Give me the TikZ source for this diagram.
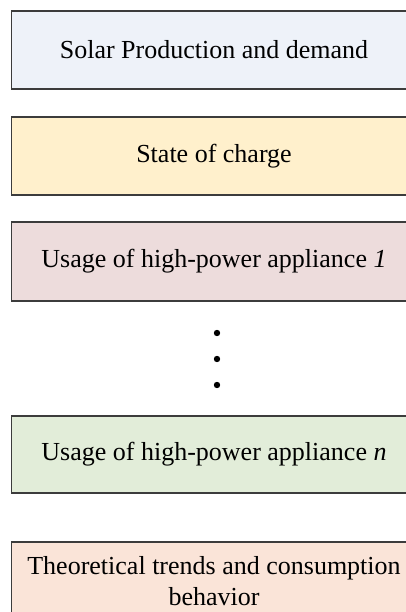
\documentclass[tikz,border=0pt]{standalone}
\usepackage{fontspec}
\setmainfont{Liberation Serif}
\definecolor{cblue}{HTML}{EEF2F9}
\definecolor{cyellow}{HTML}{FFF0CC}
\definecolor{cred}{HTML}{EDDCDC}
\definecolor{cgreen}{HTML}{E2EDD9}
\definecolor{corange}{HTML}{FAE4D8}
\definecolor{cborder}{HTML}{3C3C3C}
\begin{document}
\begin{tikzpicture}[x=1pt,y=-1pt,
  stagebox/.style={draw=cborder, line width=1.2pt, rectangle, minimum width=405pt,
    minimum height=78pt, inner sep=0pt, align=center,
    font=\fontsize{26}{31}\selectfont, text=black},
  dotmark/.style={circle, fill=black, inner sep=0pt, minimum size=6.4pt}]
\useasboundingbox (0,0) rectangle (406,612);
\node[stagebox, fill=cblue] (b1) at (214,50) {Solar Production and demand};
\node[stagebox, fill=cyellow] (b2) at (214,156) {State of charge};
\node[stagebox, fill=cred, minimum height=79pt] (b3) at (214,261.5) {Usage of high-power appliance \textit{1}};
\node[dotmark] (d1) at (217,333) {};
\node[dotmark] (d2) at (217,359) {};
\node[dotmark] (d3) at (217,385) {};
\node[stagebox, fill=cgreen, minimum height=77pt] (b4) at (214,454.5) {Usage of high-power appliance \textit{n}};
\node[stagebox, fill=corange] (b5) at (214,581) {Theoretical trends and consumption\\behavior};
\end{tikzpicture}
\end{document}
